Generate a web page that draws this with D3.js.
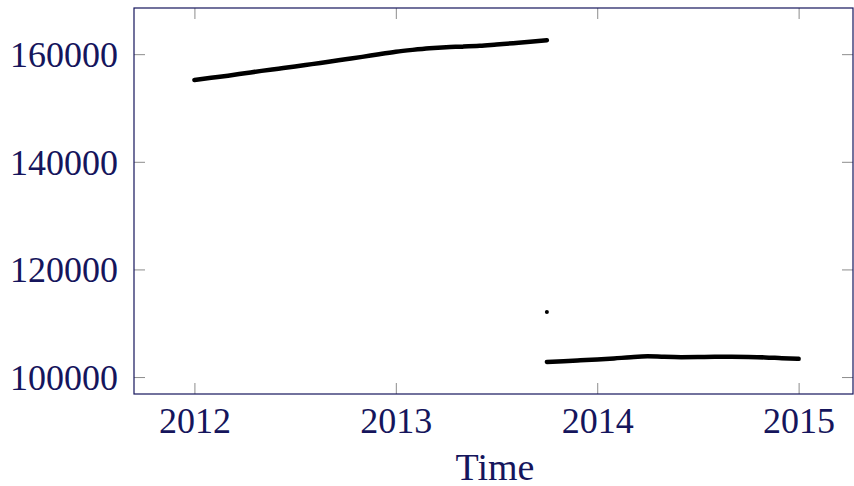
<!DOCTYPE html>
<html lang="en">
<head>
<meta charset="UTF-8">
<title>Time series</title>
<style>
  body { margin: 0; background: #fff; }
</style>
</head>
<body>
<svg width="854" height="486" id="svg"></svg>
<script src="https://d3js.org/d3.v7.min.js"></script>
<script>
    // first run, up to the break
    const years1 = [2012.0, 2012.083, 2012.167, 2012.25, 2012.333, 2012.417, 2012.5, 2012.583, 2012.667, 2012.75, 2012.833, 2012.917,
        2013.0, 2013.083, 2013.167, 2013.25, 2013.333, 2013.417, 2013.5, 2013.583, 2013.667, 2013.75]
    const values1 = [155200, 155600, 156000, 156450, 156900, 157300, 157700, 158150, 158600, 159050, 159500, 160000,
        160450, 160800, 161100, 161300, 161400, 161550, 161800, 162050, 162300, 162600]
    // second run, after the break
    const years2 = [2013.75, 2013.833, 2013.917, 2014.0, 2014.083, 2014.167, 2014.25, 2014.333, 2014.417, 2014.5,
        2014.583, 2014.667, 2014.75, 2014.833, 2014.917, 2015.0]
    const values2 = [102800, 102950, 103100, 103250, 103450, 103700, 103850, 103750, 103700, 103720,
        103750, 103750, 103720, 103650, 103500, 103380]
    // lone point at the break
    const dotYear = [2013.75]
    const dotValue = [112100]

    const xTicks = [2012, 2013, 2014, 2015]
    const yTicks = [100000, 120000, 140000, 160000]

    const navy = "#15155c"
    const font = "'Liberation Serif', 'DejaVu Serif', serif"
    const padding = { top: 8, right: 1, bottom: 92, left: 134 }
    const svg = d3.select("svg#svg")
    const width = +svg.attr("width")
    const height = +svg.attr("height")
    const innerWidth = width - padding.left - padding.right
    const innerHeight = height - padding.top - padding.bottom

    const xScale = d3.scaleLinear().domain([2011.70, 2015.27]).range([0, innerWidth])
    const yScale = d3.scaleLinear().domain([96850, 168580]).range([innerHeight, 0])

    const g = svg.append("g").attr("transform", `translate(${padding.left},${padding.top})`)

    // tick marks on all four sides, pointing inward
    const tickLen = 11
    const styleTicks = sel => {
        sel.select(".domain").remove()
        sel.selectAll(".tick line").attr("stroke", "#8c8c8c").attr("stroke-width", 1)
    }
    g.append("g").attr("transform", "translate(0,0)")
        .call(d3.axisTop(xScale).tickValues(xTicks).tickSize(-tickLen)).call(styleTicks)
        .selectAll(".tick text").remove()
    g.append("g").attr("transform", `translate(${innerWidth},0)`)
        .call(d3.axisRight(yScale).tickValues(yTicks).tickSize(-tickLen)).call(styleTicks)
        .selectAll(".tick text").remove()

    const xAxisG = g.append("g").attr("transform", `translate(0,${innerHeight})`)
        .call(d3.axisBottom(xScale).tickValues(xTicks).tickSize(-tickLen).tickFormat(d3.format("d"))).call(styleTicks)
    xAxisG.selectAll(".tick text").attr("y", 39).attr("dy", null)
        .attr("fill", navy).attr("font-size", 36).style("font-family", font)

    const yAxisG = g.append("g")
        .call(d3.axisLeft(yScale).tickValues(yTicks).tickSize(-tickLen).tickFormat(d3.format("d"))).call(styleTicks)
    yAxisG.selectAll(".tick text").attr("x", -16).attr("dy", "0.34em")
        .attr("fill", navy).attr("font-size", 36).style("font-family", font)

    // axis frame
    g.append("rect").attr("width", innerWidth).attr("height", innerHeight)
        .attr("fill", "none").attr("stroke", navy).attr("stroke-width", 1.2)

    const line = d3.line().x(d => xScale(d[0])).y(d => yScale(d[1])).curve(d3.curveMonotoneX)
    const runs = [d3.zip(years1, values1), d3.zip(years2, values2)]
    g.selectAll("path.run").data(runs).join("path").attr("class", "run")
        .attr("d", line).attr("fill", "none").attr("stroke", "#000")
        .attr("stroke-width", 4.5).attr("stroke-linecap", "round").attr("stroke-linejoin", "round")

    g.selectAll("circle.dot").data(d3.zip(dotYear, dotValue)).join("circle").attr("class", "dot")
        .attr("cx", d => xScale(d[0])).attr("cy", d => yScale(d[1])).attr("r", 2).attr("fill", "#000")

    svg.append("text").attr("x", 495).attr("y", 480)
        .attr("text-anchor", "middle").attr("fill", navy).attr("font-size", 38)
        .style("font-family", font).text("Time")
</script>
</body>
</html>
